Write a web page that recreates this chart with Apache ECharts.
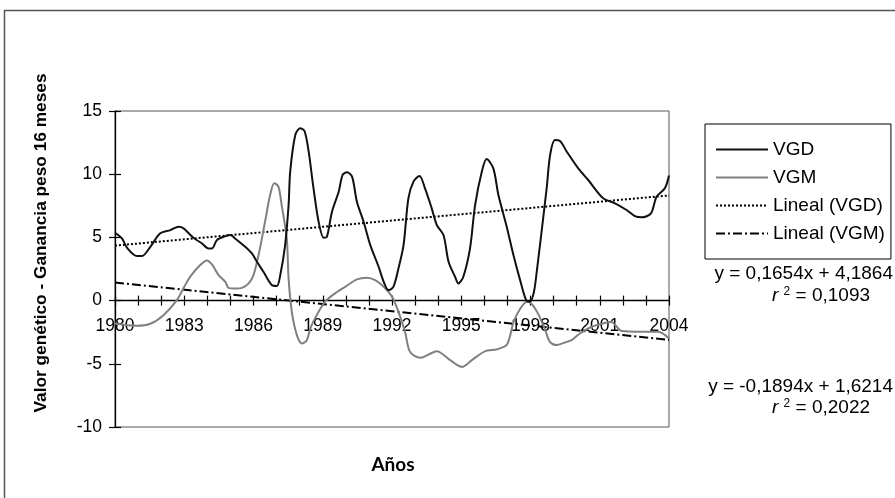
<!DOCTYPE html>
<html>
<head>
<meta charset="utf-8">
<script src="https://cdn.jsdelivr.net/npm/echarts@6/dist/echarts.min.js"></script>
<style>html,body{margin:0;padding:0;background:#fff}#c{width:895px;height:498px}</style>
</head>
<body>
<div id="c"></div>
<script>
// ---- data ----
const vgdYears = [1980.0,1980.3,1980.52,1980.95,1981.17,1981.53,1981.96,1982.4,1982.76,1982.97,1983.4,1983.77,1984.05,1984.2,1984.42,1984.78,1985.0,1985.2,1985.64,1985.93,1986.15,1986.43,1986.79,1987.01,1987.16,1987.37,1987.52,1987.59,1987.81,1988.02,1988.21,1988.39,1988.6,1988.82,1989.04,1989.18,1989.4,1989.69,1989.86,1990.05,1990.27,1990.48,1990.77,1991.06,1991.42,1991.64,1991.85,1992.06,1992.28,1992.5,1992.71,1992.93,1993.19,1993.43,1993.72,1993.94,1994.23,1994.45,1994.73,1994.88,1995.09,1995.38,1995.6,1995.89,1996.1,1996.39,1996.61,1996.97,1997.26,1997.55,1997.81,1997.98,1998.15,1998.27,1998.48,1998.7,1998.85,1999.06,1999.28,1999.57,2000.07,2000.5,2001.15,2001.66,2002.16,2002.52,2002.81,2003.22,2003.46,2003.82,2004.0];
const vgdValues = [5.37,4.92,4.18,3.52,3.52,4.26,5.32,5.58,5.84,5.71,4.97,4.52,4.13,4.13,4.79,5.1,5.18,4.92,4.26,3.73,3.07,2.28,1.23,1.15,2.02,4.39,7.56,10.2,13.1,13.63,13.42,11.78,8.88,6.24,4.97,5.05,7.03,8.61,9.94,10.15,9.81,7.82,6.24,4.39,2.68,1.49,0.83,1.09,2.55,4.39,8.09,9.41,9.86,8.88,7.3,5.98,5.19,3.07,1.89,1.36,1.89,4.13,7.56,10.2,11.2,10.46,8.35,5.85,3.6,1.62,0.04,-0.09,0.7,2.28,5.46,8.88,11.52,12.7,12.63,11.78,10.46,9.54,8.09,7.7,7.17,6.69,6.59,6.9,8.22,8.88,9.89];
const vgmYears = [1980.0,1980.95,1981.53,1982.1,1982.68,1983.0,1983.26,1983.69,1983.98,1984.2,1984.49,1984.78,1984.92,1985.21,1985.5,1985.79,1986.0,1986.25,1986.5,1986.72,1986.9,1987.08,1987.22,1987.44,1987.52,1987.66,1987.88,1988.1,1988.31,1988.46,1988.74,1989.1,1989.47,1989.97,1990.48,1990.91,1991.27,1991.64,1992.0,1992.28,1992.57,1992.78,1993.22,1993.58,1993.94,1994.52,1995.03,1995.46,1996.04,1996.55,1996.98,1997.27,1997.56,1997.85,1998.07,1998.36,1998.65,1998.84,1999.13,1999.49,1999.78,2000.14,2000.65,2001.15,2001.5,2001.95,2002.81,2003.53,2004.0];
const vgmValues = [-1.81,-1.99,-1.83,-1.15,0.04,1.09,1.89,2.81,3.18,2.86,2.02,1.49,1.01,0.96,1.01,1.36,2.02,3.87,6.24,8.35,9.28,9.02,7.56,4.92,1.76,-0.89,-2.73,-3.39,-3.13,-2.2,-1.15,-0.09,0.49,1.09,1.68,1.81,1.62,1.09,0.3,-0.89,-2.5,-4.05,-4.53,-4.27,-4.0,-4.71,-5.24,-4.71,-4.0,-3.85,-3.48,-1.68,-0.62,-0.09,-0.3,-1.15,-2.4,-3.26,-3.52,-3.31,-3.13,-2.6,-2.07,-1.81,-1.7,-2.41,-2.47,-2.47,-3.0];
const trendYears = [1980, 2004];
const trendVgdValues = [4.35, 8.32];
const trendVgmValues = [1.43, -3.11];
const seriesNames = ['VGD', 'VGM', 'Lineal (VGD)', 'Lineal (VGM)'];
const eqVgd = 'y = 0,1654x + 4,1864';
const r2Vgd = '0,1093';
const eqVgm = 'y = -0,1894x + 1,6214';
const r2Vgm = '0,2022';
const yTitle = 'Valor genético - Ganancia peso 16 meses';
const xTitle = 'Años';

const zip = (xs, ys) => xs.map((x, i) => [x, ys[i]]);
const FONT = 'Liberation Sans, Arial, sans-serif';

// grid geometry
const G_TOP = 111, G_H = 316, Y_MIN = -10, Y_MAX = 15;
const zeroOffset = -(G_H * (0 - Y_MIN) / (Y_MAX - Y_MIN));

const chart = echarts.init(document.getElementById('c'), null, {renderer: 'canvas'});
const xBase = {
  type: 'value', min: 1980, max: 2004, interval: 3, gridIndex: 0,
  position: 'bottom', offset: zeroOffset,
  splitLine: {show: false}
};
const yBase = {
  type: 'value', min: Y_MIN, max: Y_MAX, interval: 5, position: 'left',
  splitLine: {show: false}
};
chart.setOption({
  animation: false,
  backgroundColor: '#fff',
  textStyle: {fontFamily: FONT},
  grid: {left: 115, top: G_TOP, width: 554, height: G_H, show: true, borderColor: '#555', borderWidth: 1},
  xAxis: [
    Object.assign({}, xBase, {
      axisLine: {show: true, onZero: false, lineStyle: {color: '#000', width: 1.3}},
      axisTick: {show: true, length: 5, lineStyle: {color: '#000', width: 1.2}},
      minorTick: {show: true, splitNumber: 3, length: 5, lineStyle: {color: '#000', width: 1.2}},
      axisLabel: {show: true, margin: 17, color: '#000', fontSize: 17.5, fontFamily: FONT, formatter: v => String(v)}
    }),
    Object.assign({}, xBase, {
      axisLine: {show: false, onZero: false},
      axisTick: {show: true, inside: true, length: 5, lineStyle: {color: '#000', width: 1.2}},
      minorTick: {show: true, splitNumber: 3, length: 5, lineStyle: {color: '#000', width: 1.2}},
      axisLabel: {show: false}
    })
  ],
  yAxis: [
    Object.assign({}, yBase, {
      axisLine: {show: true, onZero: false, lineStyle: {color: '#000', width: 1.3}},
      axisTick: {show: true, length: 6, lineStyle: {color: '#000', width: 1.2}},
      axisLabel: {show: true, margin: 13, color: '#000', fontSize: 17.5, fontFamily: FONT}
    }),
    Object.assign({}, yBase, {
      axisLine: {show: false, onZero: false},
      axisTick: {show: true, inside: true, length: 6, lineStyle: {color: '#000', width: 1.2}},
      axisLabel: {show: false}
    })
  ],
  legend: {
    orient: 'vertical', left: 705, top: 124,
    padding: [16, 6, 16, 10],
    itemGap: 9, itemWidth: 52, itemHeight: 14,
    borderColor: '#000', borderWidth: 1,
    itemStyle: {opacity: 0},
    textStyle: {color: '#000', fontSize: 19, fontFamily: FONT},
    data: seriesNames
  },
  series: [
    {name: seriesNames[0], type: 'line', data: zip(vgdYears, vgdValues), smooth: 0.3, showSymbol: false, symbol: 'none',
     lineStyle: {color: '#111', width: 2}, itemStyle: {color: '#111'}, z: 4},
    {name: seriesNames[1], type: 'line', data: zip(vgmYears, vgmValues), smooth: 0.3, showSymbol: false, symbol: 'none',
     lineStyle: {color: '#808080', width: 2}, itemStyle: {color: '#808080'}, z: 3},
    {name: seriesNames[2], type: 'line', data: zip(trendYears, trendVgdValues), showSymbol: false, symbol: 'none',
     lineStyle: {color: '#000', width: 2, type: [2, 2]}, itemStyle: {color: '#000'}, z: 2},
    {name: seriesNames[3], type: 'line', data: zip(trendYears, trendVgmValues), showSymbol: false, symbol: 'none',
     lineStyle: {color: '#000', width: 2, type: [9, 3, 2, 3]}, itemStyle: {color: '#000'}, z: 2}
  ],
  graphic: [
    {type: 'rect', shape: {x: 4.5, y: 10.5, width: 1000, height: 1000}, style: {fill: 'none', stroke: '#555', lineWidth: 1.5}, silent: true, z: -10},
    {type: 'text', rotation: Math.PI / 2, x: 41, y: 243,
     style: {text: yTitle, textAlign: 'center', textVerticalAlign: 'middle', fill: '#000', font: 'bold 17.3px ' + FONT}},
    {type: 'text', x: 393, y: 465,
     style: {text: xTitle, textAlign: 'center', textVerticalAlign: 'middle', fill: '#000', font: 'bold 19px Lato, sans-serif'}},
    {type: 'text', x: 893, y: 274,
     style: {text: eqVgd, textAlign: 'right', textVerticalAlign: 'middle', fill: '#000', font: '19px ' + FONT}},
    {type: 'text', x: 821, y: 296,
     style: {text: '{i|r} {s|2} = ' + r2Vgd, textAlign: 'center', textVerticalAlign: 'middle', fill: '#000', font: '19px ' + FONT,
       rich: {i: {fontStyle: 'italic', fontSize: 19, fontFamily: FONT}, s: {fontSize: 12, fontFamily: FONT, padding: [0, 0, 9, 0]}}}},
    {type: 'text', x: 893, y: 387,
     style: {text: eqVgm, textAlign: 'right', textVerticalAlign: 'middle', fill: '#000', font: '19px ' + FONT}},
    {type: 'text', x: 821, y: 408,
     style: {text: '{i|r} {s|2} = ' + r2Vgm, textAlign: 'center', textVerticalAlign: 'middle', fill: '#000', font: '19px ' + FONT,
       rich: {i: {fontStyle: 'italic', fontSize: 19, fontFamily: FONT}, s: {fontSize: 12, fontFamily: FONT, padding: [0, 0, 9, 0]}}}}
  ]
});
</script>
</body>
</html>
